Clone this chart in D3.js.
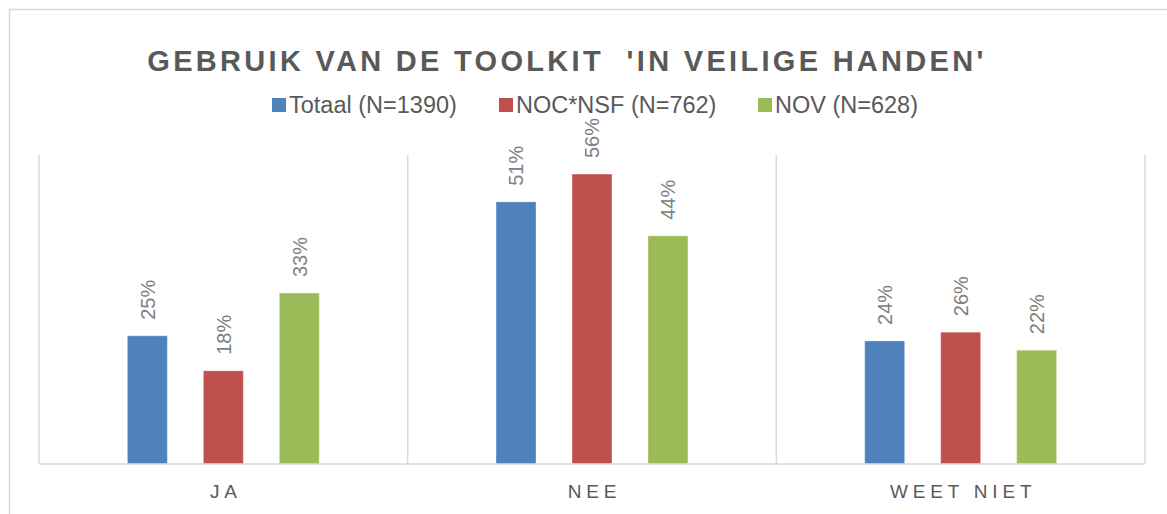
<!DOCTYPE html>
<html>
<head>
<meta charset="utf-8">
<title>Gebruik van de toolkit</title>
<style>
  body { margin: 0; background: #fff; }
  text { font-family: "Liberation Sans", Arial, sans-serif; }
</style>
</head>
<body>
<svg id="chart" width="1167" height="514"></svg>
<script src="https://d3js.org/d3.v7.min.js"></script>
<script>
// data
var categories = ["JA", "NEE", "WEET NIET"];
var seriesNames = ["Totaal (N=1390)", "NOC*NSF (N=762)", "NOV (N=628)"];
var totaal = [24.9, 50.9, 23.9];
var nocnsf = [18.1, 56.3, 25.6];
var nov = [33.2, 44.3, 22.1];
var colors = ["#4f81bd", "#c0504d", "#9bbb59"];
var title = "GEBRUIK VAN DE TOOLKIT  'IN VEILIGE HANDEN'";

var values = [totaal, nocnsf, nov];

var svg = d3.select("#chart");

// outer frame (only left & top edges visible)
svg.append("rect")
    .attr("x", 9.5).attr("y", 9.5)
    .attr("width", 1200).attr("height", 600)
    .attr("fill", "none")
    .attr("stroke", "#d9d9d9")
    .attr("stroke-width", 1.5);

var plotLeft = 39, plotRight = 1145, plotTop = 155, plotBottom = 464;

var x0 = d3.scaleBand().domain(categories).range([plotLeft, plotRight]);
var x1 = d3.scaleBand().domain(seriesNames)
    .range([0, x0.bandwidth()])
    .paddingInner(0.474)
    .paddingOuter(1.163);
var y = d3.scaleLinear().domain([0, 60]).range([plotBottom, plotTop]);

// category separators
var seps = categories.map(function(c) { return x0(c); }).concat([plotRight]);
svg.selectAll("line.sep")
    .data(seps)
    .enter().append("line")
    .attr("class", "sep")
    .attr("x1", function(d) { return d; })
    .attr("x2", function(d) { return d; })
    .attr("y1", plotTop).attr("y2", plotBottom)
    .attr("stroke", "#d9d9d9")
    .attr("stroke-width", 1.5);

// bars
var groups = svg.selectAll("g.cat")
    .data(categories)
    .enter().append("g")
    .attr("class", "cat")
    .attr("transform", function(c) { return "translate(" + x0(c) + ",0)"; });

groups.each(function(c, ci) {
    var g = d3.select(this);
    var rows = seriesNames.map(function(s, si) {
        return { s: s, v: values[si][ci], color: colors[si] };
    });
    g.selectAll("rect")
        .data(rows)
        .enter().append("rect")
        .attr("x", function(d) { return x1(d.s); })
        .attr("y", function(d) { return y(d.v); })
        .attr("width", x1.bandwidth())
        .attr("height", function(d) { return plotBottom - y(d.v); })
        .attr("fill", function(d) { return d.color; })
        .attr("stroke", "#ffffff")
        .attr("stroke-opacity", 0.35)
        .attr("stroke-width", 1);

    g.selectAll("text.lbl")
        .data(rows)
        .enter().append("text")
        .attr("class", "lbl")
        .attr("transform", function(d) {
            return "translate(" + (x1(d.s) + x1.bandwidth() / 2) + "," + (y(d.v) - 16) + ") rotate(-90)";
        })
        .attr("dy", "0.36em")
        .attr("text-anchor", "start")
        .attr("font-size", 20)
        .attr("fill", "#808080")
        .text(function(d) { return Math.round(d.v) + "%"; });
});

// x axis baseline
svg.append("line")
    .attr("x1", plotLeft).attr("x2", plotRight)
    .attr("y1", plotBottom).attr("y2", plotBottom)
    .attr("stroke", "#d9d9d9")
    .attr("stroke-width", 1.5);

// category labels
svg.selectAll("text.cat")
    .data(categories)
    .enter().append("text")
    .attr("class", "cat")
    .attr("x", function(c) { return x0(c) + x0.bandwidth() / 2 + 2.5; })
    .attr("y", 498)
    .attr("text-anchor", "middle")
    .attr("font-size", 19)
    .attr("letter-spacing", "4.8px")
    .attr("fill", "#595959")
    .text(function(c) { return c; });

// title
svg.append("text")
    .attr("x", 567)
    .attr("y", 71)
    .attr("text-anchor", "middle")
    .attr("font-size", 29)
    .attr("font-weight", "bold")
    .attr("letter-spacing", "3.3px")
    .attr("fill", "#595959")
    .style("white-space", "pre")
    .text(title);

// legend
var legendX = [272, 499, 758];
var legend = svg.selectAll("g.leg")
    .data(seriesNames)
    .enter().append("g")
    .attr("class", "leg")
    .attr("transform", function(d, i) { return "translate(" + legendX[i] + ",98)"; });
legend.append("rect")
    .attr("width", 14).attr("height", 14)
    .attr("fill", function(d, i) { return colors[i]; });
legend.append("text")
    .attr("x", 17)
    .attr("y", 14.5)
    .attr("font-size", 23.5)
    .attr("fill", "#595959")
    .text(function(d) { return d; });
</script>
</body>
</html>
